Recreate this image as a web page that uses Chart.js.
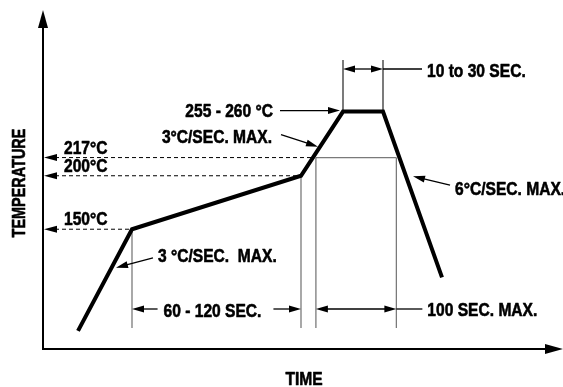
<!DOCTYPE html>
<html>
<head>
<meta charset="utf-8">
<title>Reflow profile</title>
<script src="https://cdn.jsdelivr.net/npm/chart.js@4/dist/chart.umd.min.js"></script>
<style>
  html, body { margin: 0; padding: 0; background: #fff; }
  #wrap { width: 563px; height: 387px; position: relative; }
</style>
</head>
<body>
<div id="wrap"><canvas id="profile"></canvas></div>
<script>
// --- Profile data (time in s, temperature in °C) ---
const profileTimes = [17.5, 44.5, 129, 150, 170, 199.5];
const profileTemps = [55, 150, 200, 260, 260, 105];

// reference temperatures marked on the temperature axis
const markerTemps = [150, 200, 217];
const markerLabels = ['150°C', '200°C', '217°C'];
const liquidusTemp = 217;

// annotation texts
const peakLabel = '255 - 260 °C';
const rampLabels = ['3 °C/SEC.  MAX.', '3°C/SEC. MAX.', '6°C/SEC. MAX.'];
const spanLabels = ['60 - 120 SEC.', '100 SEC. MAX.', '10 to 30 SEC.'];
const axisTitles = ['TIME', 'TEMPERATURE'];

// bold sans squeezed horizontally to get a condensed face
const FONT = 'bold 19px "Liberation Sans", Arial, sans-serif';
const SQUEEZE = 0.82;
const GRAY = '#7a7a7a';

/** times where the profile crosses a temperature */
function crossings(temp) {
    const out = [];
    for (let i = 0; i < profileTimes.length - 1; i++) {
        const t0 = profileTimes[i], t1 = profileTimes[i + 1];
        const y0 = profileTemps[i], y1 = profileTemps[i + 1];
        if (y0 === y1) continue;
        const f = (temp - y0) / (y1 - y0);
        if (f >= 0 && f <= 1) {
            const t = t0 + f * (t1 - t0);
            if (!out.some(v => Math.abs(v - t) < 1e-6)) out.push(t);
        }
    }
    return out;
}

function arrowHead(ctx, x, y, angle, len, half) {
    ctx.save();
    ctx.translate(x, y);
    ctx.rotate(angle);
    ctx.beginPath();
    ctx.moveTo(0, 0);
    ctx.lineTo(-len, -half);
    ctx.lineTo(-len, half);
    ctx.closePath();
    ctx.fill();
    ctx.restore();
}

function line(ctx, x1, y1, x2, y2) {
    ctx.beginPath();
    ctx.moveTo(x1, y1);
    ctx.lineTo(x2, y2);
    ctx.stroke();
}

// line from (x1,y1) with a head at (x2,y2)
function pointer(ctx, x1, y1, x2, y2) {
    const a = Math.atan2(y2 - y1, x2 - x1);
    line(ctx, x1, y1, x2 - Math.cos(a) * 8, y2 - Math.sin(a) * 8);
    arrowHead(ctx, x2, y2, a, 12, 3.5);
}

// filled + thin outline so the squeezed face reads as heavy as a condensed bold
function text(ctx, str, x, y, align, sx = SQUEEZE) {
    ctx.save();
    ctx.translate(x, y);
    ctx.scale(sx, 1);
    ctx.textAlign = align;
    ctx.lineWidth = 0.6;
    ctx.lineJoin = 'round';
    ctx.fillText(str, 0, 0);
    ctx.strokeText(str, 0, 0);
    ctx.restore();
}

function textWidth(ctx, str, sx = SQUEEZE) {
    return ctx.measureText(str).width * sx;
}

// point along a profile segment
function along(p, q, f) {
    return { x: p.x + (q.x - p.x) * f, y: p.y + (q.y - p.y) * f };
}

const profileNotes = {
    id: 'profileNotes',
    beforeDatasetsDraw(chart) {
        const ctx = chart.ctx;
        const { left, top, right, bottom } = chart.chartArea;
        const px = t => chart.scales.x.getPixelForValue(t);
        const py = v => chart.scales.y.getPixelForValue(v);
        const pts = profileTimes.map((t, i) => ({ x: px(t), y: py(profileTemps[i]) }));
        const dimBottom = bottom - 21;

        ctx.save();
        ctx.fillStyle = '#000';
        ctx.strokeStyle = '#000';

        // axes with arrows
        ctx.lineWidth = 2;
        line(ctx, left, bottom + 1, left, top + 14);
        arrowHead(ctx, left, top, -Math.PI / 2, 18, 5);
        line(ctx, left - 1, bottom, right - 14, bottom);
        arrowHead(ctx, right, bottom, 0, 18, 5);

        // dashed temperature markers
        ctx.lineWidth = 1;
        markerTemps.forEach(temp => {
            const y = py(temp);
            const xEnd = px(crossings(temp)[0]);
            ctx.setLineDash([4, 3]);
            line(ctx, left + 12, y, xEnd, y);
            ctx.setLineDash([]);
            arrowHead(ctx, left + 1, y, Math.PI, 13, 3.5);
        });

        // gray extension lines
        ctx.strokeStyle = GRAY;
        ctx.lineWidth = 1.3;
        line(ctx, pts[1].x, pts[1].y, pts[1].x, dimBottom);
        line(ctx, pts[2].x, pts[2].y, pts[2].x, dimBottom);
        const liq = crossings(liquidusTemp).map(px);
        const yl = py(liquidusTemp);
        const l0 = liq[0] + 3, l1 = liq[1] - 3;
        line(ctx, l0, yl, l0, dimBottom);
        line(ctx, l1, yl, l1, dimBottom);
        line(ctx, l0, yl, l1, yl);
        ctx.strokeStyle = '#333';
        line(ctx, pts[3].x, pts[3].y, pts[3].x, top + 50);
        line(ctx, pts[4].x, pts[4].y, pts[4].x, top + 50);
        ctx.restore();
    },
    afterDatasetsDraw(chart) {
        const ctx = chart.ctx;
        const { left, top, bottom } = chart.chartArea;
        const px = t => chart.scales.x.getPixelForValue(t);
        const py = v => chart.scales.y.getPixelForValue(v);
        const pts = profileTimes.map((t, i) => ({ x: px(t), y: py(profileTemps[i]) }));
        const dimY = bottom - 40;
        const topY = top + 59;

        ctx.save();
        ctx.fillStyle = '#000';
        ctx.strokeStyle = '#000';
        ctx.lineWidth = 1.3;
        ctx.font = FONT;
        ctx.textBaseline = 'alphabetic';

        // temperature marker labels
        markerTemps.forEach((temp, i) => {
            text(ctx, markerLabels[i], left + 21, py(temp) - 4, 'left');
        });

        // peak
        text(ctx, peakLabel, pts[3].x - 70, pts[3].y + 5, 'right');
        pointer(ctx, pts[3].x - 63, pts[3].y - 1, pts[3].x - 3, pts[3].y - 1);

        // ramp rates
        const r0 = along(pts[0], pts[1], 0.62);
        const t0 = { x: r0.x + 4.5, y: r0.y };
        pointer(ctx, t0.x + 37, t0.y - 10, t0.x, t0.y);
        text(ctx, rampLabels[0], t0.x + 42, t0.y - 6, 'left');

        const r1 = along(pts[2], pts[3], 0.5);
        const t1 = { x: r1.x - 4, y: r1.y + 3 };
        pointer(ctx, t1.x - 37, t1.y - 12, t1.x, t1.y);
        text(ctx, rampLabels[1], t1.x - 46, t1.y - 4, 'right');

        const r2 = along(pts[4], pts[5], 0.39);
        const t2 = { x: r2.x + 7, y: r2.y };
        pointer(ctx, t2.x + 37, t2.y + 9, t2.x, t2.y);
        text(ctx, rampLabels[2], t2.x + 42, t2.y + 19, 'left');

        // soak span
        const a = pts[1].x, b = pts[2].x;
        const cx = (a + b) / 2 - 4;
        const w = textWidth(ctx, spanLabels[0]);
        text(ctx, spanLabels[0], cx, dimY + 8, 'center');
        pointer(ctx, cx - w / 2 - 6, dimY, a, dimY);
        pointer(ctx, cx + w / 2 + 12, dimY, b, dimY);

        // time above liquidus
        const liq = crossings(liquidusTemp).map(px);
        const l0 = liq[0] + 3, l1 = liq[1] - 3;
        line(ctx, l0 + 8, dimY, l1 - 8, dimY);
        arrowHead(ctx, l0, dimY, Math.PI, 12, 3.5);
        arrowHead(ctx, l1, dimY, 0, 12, 3.5);
        line(ctx, l1, dimY, l1 + 26, dimY);
        text(ctx, spanLabels[1], l1 + 31, dimY + 7, 'left');

        // time at peak
        line(ctx, pts[3].x + 8, topY, pts[4].x - 8, topY);
        arrowHead(ctx, pts[3].x, topY, Math.PI, 12, 3.5);
        arrowHead(ctx, pts[4].x, topY, 0, 12, 3.5);
        line(ctx, pts[4].x, topY, pts[4].x + 39, topY);
        text(ctx, spanLabels[2], pts[4].x + 44, topY + 8, 'left');

        // axis titles
        text(ctx, axisTitles[0], 304, bottom + 36, 'center');
        ctx.translate(25, 183);
        ctx.rotate(-Math.PI / 2);
        text(ctx, axisTitles[1], 0, 0, 'center', 0.76);
        ctx.restore();
    }
};

const profileData = profileTimes.map((t, i) => ({ x: t, y: profileTemps[i] }));

new Chart(document.getElementById('profile'), {
    type: 'line',
    data: {
        datasets: [{
            data: profileData,
            borderColor: '#000',
            borderWidth: 4,
            pointRadius: 0,
            tension: 0,
            borderJoinStyle: 'miter',
            borderCapStyle: 'butt'
        }]
    },
    options: {
        responsive: true,
        maintainAspectRatio: false,
        animation: false,
        events: [],
        layout: { padding: { left: 43, top: 10, right: 0, bottom: 38 } },
        scales: {
            x: { type: 'linear', min: 0, max: 260, display: false },
            y: { type: 'linear', min: 38, max: 355, display: false }
        },
        plugins: {
            legend: { display: false },
            tooltip: { enabled: false }
        }
    },
    plugins: [profileNotes]
});
</script>
</body>
</html>
